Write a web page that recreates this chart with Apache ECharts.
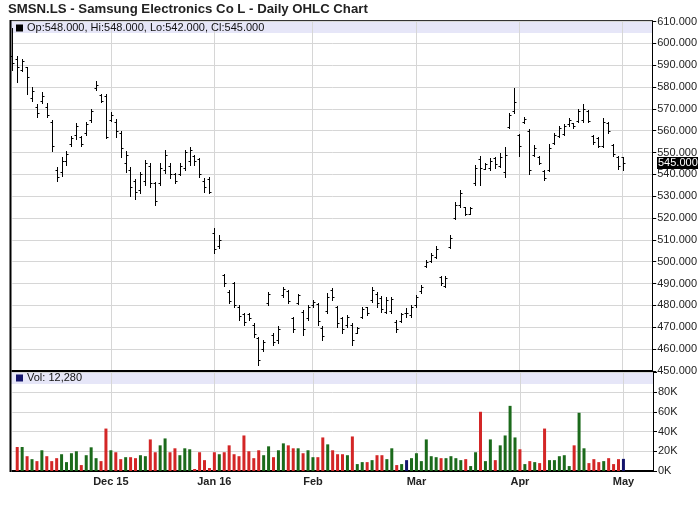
<!DOCTYPE html>
<html><head><meta charset="utf-8">
<script src="https://cdn.jsdelivr.net/npm/echarts/dist/echarts.min.js"></script>
<style>html,body{margin:0;padding:0;background:#fff}#c{width:700px;height:512px}</style>
</head><body><div id="c"></div>
<script>
// ---- data ----
const dates = [
'2015-11-03','2015-11-04','2015-11-05','2015-11-06','2015-11-09','2015-11-10','2015-11-11','2015-11-12','2015-11-13',
'2015-11-16','2015-11-17','2015-11-18','2015-11-19','2015-11-20','2015-11-23','2015-11-24','2015-11-25','2015-11-26','2015-11-27','2015-11-30',
'2015-12-01','2015-12-02','2015-12-03','2015-12-04','2015-12-07','2015-12-08','2015-12-09','2015-12-10','2015-12-11',
'2015-12-14','2015-12-15','2015-12-16','2015-12-17','2015-12-18','2015-12-21','2015-12-22','2015-12-23','2015-12-24','2015-12-29','2015-12-30','2015-12-31',
'2016-01-04','2016-01-05','2016-01-06','2016-01-07','2016-01-08','2016-01-11','2016-01-12','2016-01-13','2016-01-14','2016-01-15',
'2016-01-18','2016-01-19','2016-01-20','2016-01-21','2016-01-22','2016-01-25','2016-01-26','2016-01-27','2016-01-28','2016-01-29',
'2016-02-01','2016-02-02','2016-02-03','2016-02-04','2016-02-05','2016-02-08','2016-02-09','2016-02-10','2016-02-11','2016-02-12',
'2016-02-15','2016-02-16','2016-02-17','2016-02-18','2016-02-19','2016-02-22','2016-02-23','2016-02-24','2016-02-25','2016-02-26','2016-02-29',
'2016-03-01','2016-03-02','2016-03-03','2016-03-04','2016-03-07','2016-03-08','2016-03-09','2016-03-10','2016-03-11',
'2016-03-14','2016-03-15','2016-03-16','2016-03-17','2016-03-18','2016-03-21','2016-03-22','2016-03-23','2016-03-24','2016-03-29','2016-03-30','2016-03-31',
'2016-04-01','2016-04-04','2016-04-05','2016-04-06','2016-04-07','2016-04-08','2016-04-11','2016-04-12','2016-04-13','2016-04-14','2016-04-15',
'2016-04-18','2016-04-19','2016-04-20','2016-04-21','2016-04-22','2016-04-25','2016-04-26','2016-04-27','2016-04-28','2016-04-29',
'2016-05-03'];
const opens = [594,593,588,589,575,571,573.5,571,564,542,541,546,554,558,557,559,565,579.5,576.5,576,
565,564,559,545,542,537,533,537,544,536,536,542,544,540,540,543,546,548.5,547,537,538,
513,507,494,486,490,479,476,476,471,465,460,481,466.5,464,484.5,486.5,474,481,477,474,
480,480.5,469.5,477.5,487,479,474,471,471,467.5,474.5,479,482.5,485,483.5,477,477.5,472.5,473,476.5,475.5,
480,486.5,498,500.5,502,493,489,506.5,520,526,525,522,536,547,542.5,543,547.5,544,541,561.5,569,
558,564,560,549,548,541.5,542,554.5,557.5,558.5,563,563.5,564.5,565,569,557.5,556.5,553,563.5,553.5,548,
548];
const highs = [607,594,592.8,589.3,579.8,572.2,577.8,572.5,564.9,543.2,547.8,550.8,557.4,563.4,557.7,564,569.8,582.9,576.8,576.8,
568.4,565.3,560,550.8,543.2,537.7,541.2,546.6,545,536.6,545,551.1,545,540.5,545,551.1,552.7,548.9,547.3,538.2,538.9,
515.3,512.2,494.3,487,490.8,480.2,476.3,476.6,471.7,465.6,464.1,486.3,467.2,470.5,488.2,487,474.8,485.2,477.9,480.1,
482.4,480.9,470.5,485.5,487.8,479.7,474.8,475.6,471.7,470.2,479.4,479.4,488.2,485.9,484.2,484,484,473.3,476.6,478.6,480.1,
484.7,489.3,500.8,504.1,507,493.4,493.4,512.2,527.5,532.8,525.2,525.2,544.3,548.4,545.3,547.3,547.8,549.6,552.7,568,579.4,
558.5,566.1,560.8,553.4,548.5,542,553.9,558.8,562.3,562.9,565.6,563.7,569.8,572.2,569.5,558,557,565.6,564.1,553.9,548.5,
548];
const lows = [588,582.4,587.5,576.8,573.7,566.4,572.5,566.1,550.8,537.1,539.4,544.4,552.8,556.2,553.1,558.2,564,578.8,573,556.6,
564.3,557,547.8,540.9,530,528.5,531.6,535.1,534.3,526,535.1,540.5,538.2,535.9,539.7,542,544.3,544.3,539,532,531.6,
504.1,506.1,488.8,480.9,479.4,473.3,471,473.3,465.6,452.7,459.2,480.1,461.8,462.6,484,480.9,467.9,480.5,466.4,473.3,
479.4,471,464.1,476.3,482.4,470.2,467.2,470.2,461.8,467.2,474,475.6,481.7,479.4,477,476.3,476.3,467.9,472.5,474.8,474.8,
479.4,485.8,497.4,500,501.5,489.3,488.5,506.1,519.4,525.2,521.4,521.8,535.1,535.1,542.3,542,542.7,543.5,538.6,561.1,568,
548.5,563.4,540,548.5,544.6,537.4,541.7,553.9,557,557.9,562.3,561.1,564.1,564.1,563.8,553.7,552.4,552.4,558.8,548.5,542.3,
542];
const closes = [591,589,592,584.5,578,568,576,567,553,539,546,549.5,556.5,562,554,563,569,581,573.5,557,
567,560,552,549,534,532,540,545,536,528,543,549,540,537,544,550,551,546,540,534,532,
506,510,490,482,480,475,472.5,474,467,455,463,485,463,469,487.5,482,469,484.5,469,479,
481.5,473,466,484,484,472,469,474.5,464,469.5,478.5,476.5,487,481,478.5,482.5,483,469,476,476.5,479,
484,488.5,500,503,506,490,492.5,511,526,531.5,522,524.5,543,543,544.5,546,544.5,548,549,567,573,
553,565.5,542,552,545,538.5,552,558,561,562,565,562,569,570,564.5,555,553,564,560,549.5,544,
545];
const volumes = [null,24300,24300,15000,12000,10000,21000,15000,10000,13000,17000,9000,18000,20000,6000,16000,24000,13000,10000,43000,
21000,19000,12000,14000,14000,13000,16000,15000,32000,19000,26000,33000,19000,23000,16000,23000,22000,2000,19000,11000,3000,
19000,17000,19000,26000,17000,15000,36000,20000,13000,21000,16000,25000,14000,21000,28000,26000,23000,23000,18000,21000,
14000,14000,34000,27000,21000,17000,17000,16000,35000,7000,9000,9000,11000,16000,16000,12000,23000,6000,7000,11000,13000,
18000,10000,32000,15000,14000,13000,13000,15000,13000,11000,12000,5000,19000,60000,10000,32000,11000,26000,36000,66000,34000,
22000,7000,10000,9000,8000,43000,11000,11000,15000,16000,5000,26000,59000,23000,8000,12000,9000,10000,13000,7000,12000,
12280];
// volume bar colour code: u = up (green), d = down (red), n = navy
const volDir = [null,'d','u','d','u','d','u','d','d','d','u','u','u','u','d','u','u','u','d','d',
'u','d','d','u','d','d','u','u','d','d','u','u','d','d','u','u','u','d','d','d','d',
'd','u','d','d','d','d','d','d','d','d','u','u','d','u','u','d','d','u','d','u',
'u','d','d','u','d','d','d','u','d','u','u','d','u','d','d','u','u','d','u','n','u',
'u','u','u','u','u','d','u','u','u','u','d','u','u','d','u','u','d','u','u','u','u',
'd','u','d','u','d','d','u','u','u','u','u','d','u','u','d','d','d','u','d','d','d',
'n'];
const monthTickDates = ['2015-12-01','2016-01-04','2016-02-01','2016-03-01','2016-04-01','2016-05-03'];
const monthTickLabels = ['Dec 15','Jan 16','Feb','Mar','Apr','May'];
const priceMin = 450, priceMax = 610, priceStep = 10;
const volMin = 0, volMax = 100000, volStep = 20000;
const titleText = 'SMSN.LS - Samsung Electronics Co L - Daily OHLC Chart';
const emptySlots = 6;

// ---- build ----
const cats = dates.concat(Array.from({length: emptySlots}, (_, k) => '+' + (k + 1)));
const tickIdx = monthTickDates.map(d => dates.indexOf(d));
const labelOf = {};
monthTickDates.forEach((d, k) => labelOf[d] = monthTickLabels[k]);
const isTick = (idx) => tickIdx.indexOf(idx) >= 0;
const colorMap = {u: '#1b6a1b', d: '#d32626', n: '#14146c'};
const FONT = "'Liberation Sans', Arial, sans-serif";

const ohlcData = dates.map((d, i) => [i, opens[i], highs[i], lows[i], closes[i]]);
const volData = volumes.map((v, i) => v == null ? '-' : {value: v, itemStyle: {color: colorMap[volDir[i]]}});

const GL = 12.3, GR = 47;
const chart = echarts.init(document.getElementById('c'), null, {renderer: 'canvas'});

function xAxisCfg(gi, showLabels) {
  return {
    type: 'category', gridIndex: gi, data: cats, boundaryGap: false,
    axisLine: {show: true, onZero: false, lineStyle: {color: '#000', width: 2}},
    axisTick: {show: false},
    axisLabel: {show: showLabels, interval: (i) => isTick(i), formatter: (v) => labelOf[v] || '',
      fontFamily: FONT, fontWeight: 'bold', fontSize: 11, color: '#222', margin: 5},
    splitLine: {show: true, interval: (i) => isTick(i), lineStyle: {color: '#d6d6d6', width: 1}}
  };
}

const option = {
  animation: false,
  backgroundColor: '#fff',
  grid: [
    {left: GL, right: GR, top: 21.5, height: 349.3},
    {left: GL, right: GR, top: 372.3, height: 98.7}
  ],
  xAxis: [xAxisCfg(0, false), xAxisCfg(1, true)],
  yAxis: [
    {type: 'value', gridIndex: 0, position: 'right', min: priceMin, max: priceMax, interval: priceStep,
     axisLine: {show: true, lineStyle: {color: '#000', width: 1}},
     axisTick: {show: true, length: 4, lineStyle: {color: '#000'}},
     axisLabel: {formatter: (v) => v.toFixed(3), fontFamily: FONT, fontSize: 11, color: '#222', margin: 5},
     splitLine: {show: true, lineStyle: {color: '#d6d6d6', width: 1}}},
    {type: 'value', gridIndex: 1, position: 'right', min: volMin, max: volMax, interval: volStep,
     axisLine: {show: true, lineStyle: {color: '#000', width: 1}},
     axisTick: {show: true, length: 4, lineStyle: {color: '#000'}},
     axisLabel: {formatter: (v) => v >= volMax ? '' : (v / 1000) + 'K', fontFamily: FONT, fontSize: 11, color: '#222', margin: 5},
     splitLine: {show: true, lineStyle: {color: '#d6d6d6', width: 1}}}
  ],
  series: [
    {type: 'custom', xAxisIndex: 0, yAxisIndex: 0, clip: false, data: ohlcData,
     encode: {x: 0, y: [1, 2, 3, 4]},
     renderItem: function (params, api) {
       const i = api.value(0);
       const h = api.coord([i, api.value(2)]);
       const l = api.coord([i, api.value(3)]);
       const o = api.coord([i, api.value(1)]);
       const c = api.coord([i, api.value(4)]);
       const x = Math.round(h[0]) + 0.5;
       const st = {stroke: '#000', lineWidth: 1};
       const oy = Math.round(o[1]) + 0.5, cy = Math.round(c[1]) + 0.5;
       return {type: 'group', children: [
         {type: 'line', shape: {x1: x, y1: Math.round(h[1]), x2: x, y2: Math.round(l[1]) + 1}, style: st},
         {type: 'line', shape: {x1: x - 2, y1: oy, x2: x, y2: oy}, style: st},
         {type: 'line', shape: {x1: x, y1: cy, x2: x + 2, y2: cy}, style: st}
       ]};
     }},
    {type: 'bar', xAxisIndex: 1, yAxisIndex: 1, data: volData, barWidth: 3}
  ]
};
chart.setOption(option);

// decorations (strips, frame, legends); current-price tag placed through the axis scale
const lastI = dates.length - 1;
const yLast = chart.convertToPixel({yAxisIndex: 0}, closes[lastI]);
const f3 = (v) => v.toFixed(3);
const legendText = 'Op:' + f3(opens[lastI]) + ', Hi:' + f3(highs[lastI]) + ', Lo:' + f3(lows[lastI]) + ', Cl:' + f3(closes[lastI]);
const volText = 'Vol: ' + volumes[lastI].toLocaleString('en-US');
chart.setOption({
  graphic: [
    {type: 'rect', z: -10, shape: {x: 11, y: 21, width: 642, height: 12}, style: {fill: '#e6e6f8'}, silent: true},
    {type: 'rect', z: -10, shape: {x: 11, y: 372, width: 642, height: 12}, style: {fill: '#e6e6f8'}, silent: true},
    {type: 'line', shape: {x1: 11, y1: 20.5, x2: 653, y2: 20.5}, style: {stroke: '#333', lineWidth: 1}},
    {type: 'line', shape: {x1: 10.5, y1: 20, x2: 10.5, y2: 472}, style: {stroke: '#000', lineWidth: 2}},
    {type: 'rect', shape: {x: 16, y: 24.5, width: 7, height: 7}, style: {fill: '#000'}},
    {type: 'text', x: 27, y: 28, style: {text: legendText, fontFamily: FONT, fontSize: 11, fill: '#111', verticalAlign: 'middle'}},
    {type: 'rect', shape: {x: 16, y: 374.5, width: 7, height: 7}, style: {fill: colorMap.n}},
    {type: 'text', x: 27, y: 378, style: {text: volText, fontFamily: FONT, fontSize: 11, fill: '#111', verticalAlign: 'middle'}},
    {type: 'text', x: 8, y: 9, style: {text: titleText, fontFamily: FONT, fontSize: 13.2, fontWeight: 'bold', fill: '#222', verticalAlign: 'middle'}},
    {type: 'rect', shape: {x: 657, y: Math.round(yLast) - 6, width: 41, height: 12}, style: {fill: '#000'}},
    {type: 'text', x: 658, y: Math.round(yLast), style: {text: f3(closes[lastI]), fontFamily: FONT, fontSize: 11, fill: '#fff', verticalAlign: 'middle'}}
  ]
});
</script></body></html>
